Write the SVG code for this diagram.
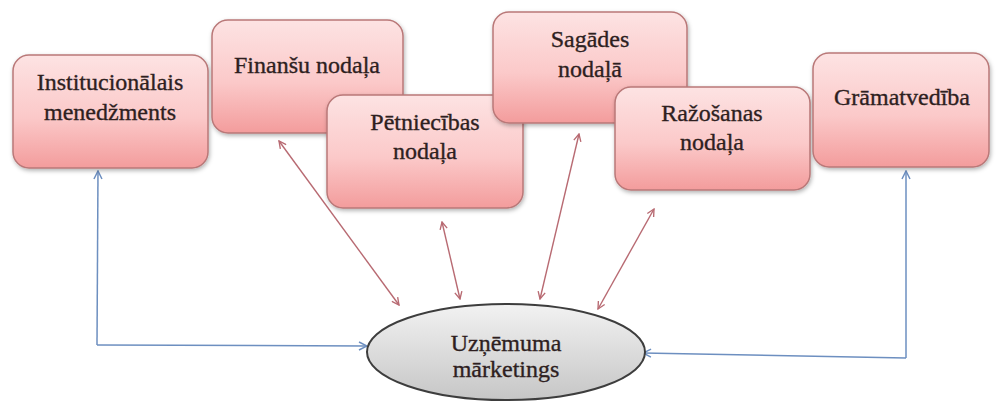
<svg xmlns="http://www.w3.org/2000/svg" width="996" height="403" viewBox="0 0 996 403">
<defs>
<linearGradient id="pink" x1="0" y1="0" x2="0" y2="1">
<stop offset="0" stop-color="#fde3e3"/>
<stop offset="0.55" stop-color="#fbc9c9"/>
<stop offset="1" stop-color="#f39c9c"/>
</linearGradient>
<linearGradient id="grey" x1="0" y1="0" x2="0" y2="1">
<stop offset="0" stop-color="#f2f2f2"/>
<stop offset="1" stop-color="#c6c6c6"/>
</linearGradient>
<filter id="sh" x="-10%" y="-10%" width="125%" height="130%">
<feDropShadow dx="1" dy="2" stdDeviation="2" flood-color="#000" flood-opacity="0.3"/>
</filter>
<marker id="ar" viewBox="0 0 10 10" refX="9" refY="5" markerWidth="9" markerHeight="9" orient="auto-start-reverse" markerUnits="userSpaceOnUse">
<path d="M1,1 L9,5 L1,9" fill="none" stroke="#b86a72" stroke-width="1.5"/>
</marker>
<marker id="ab" viewBox="0 0 10 10" refX="9" refY="5" markerWidth="10" markerHeight="10" orient="auto" markerUnits="userSpaceOnUse">
<path d="M1,1 L9,5 L1,9" fill="none" stroke="#6d8fc0" stroke-width="1.5"/>
</marker>
</defs>
<style>
.box{fill:url(#pink);stroke:#b97878;stroke-width:1.5;filter:url(#sh)}
.t{font-size:24px;fill:#2e1f1f;text-anchor:middle;stroke:#2e1f1f;stroke-width:0.35}
.r{fill:none;stroke:#b86a72;stroke-width:1.4;marker-start:url(#ar);marker-end:url(#ar)}
.b{fill:none;stroke:#6d8fc0;stroke-width:1.5;marker-end:url(#ab)}
</style>
<rect width="996" height="403" fill="#fff"/>
<g id="connectors">
<line class="r" x1="279" y1="141" x2="399" y2="305"/>
<line class="r" x1="442" y1="222" x2="460" y2="299"/>
<line class="r" x1="579" y1="134" x2="540" y2="299"/>
<line class="r" x1="654" y1="209" x2="598" y2="309"/>
<polyline class="b" points="97,345 98,171"/>
<polyline class="b" points="97,345 367,346"/>
<polyline class="b" points="906,358 906,171"/>
<polyline class="b" points="906,358 643,353"/>
</g>
<g font-family="'Liberation Serif', 'DejaVu Serif', serif">
<g id="n-inst">
<rect class="box" x="13" y="55" width="195" height="113" rx="16"/>
<text class="t" x="110" y="90">Institucionālais</text>
<text class="t" x="110" y="120">menedžments</text>
</g>
<g id="n-fin">
<rect class="box" x="212" y="20" width="191" height="113" rx="16"/>
<text class="t" x="307" y="73">Finanšu nodaļa</text>
</g>
<g id="n-pet">
<rect class="box" x="327" y="95" width="196" height="113" rx="16"/>
<text class="t" x="425" y="130">Pētniecības</text>
<text class="t" x="425" y="159">nodaļa</text>
</g>
<g id="n-sag">
<rect class="box" x="493" y="12" width="194" height="111" rx="16"/>
<text class="t" x="590" y="47">Sagādes</text>
<text class="t" x="590" y="77">nodaļā</text>
</g>
<g id="n-raz">
<rect class="box" x="615" y="87" width="195" height="103" rx="16"/>
<text class="t" x="712" y="121">Ražošanas</text>
<text class="t" x="712" y="150">nodaļa</text>
</g>
<g id="n-gram">
<rect class="box" x="813" y="53" width="176" height="114" rx="16"/>
<text class="t" x="902" y="105">Grāmatvedība</text>
</g>
<g id="n-mark">
<ellipse cx="506" cy="352" rx="139" ry="48" fill="url(#grey)" stroke="#3d3d3d" stroke-width="2"/>
<text class="t" x="506" y="351">Uzņēmuma</text>
<text class="t" x="506" y="377">mārketings</text>
</g>
</g>
</svg>
